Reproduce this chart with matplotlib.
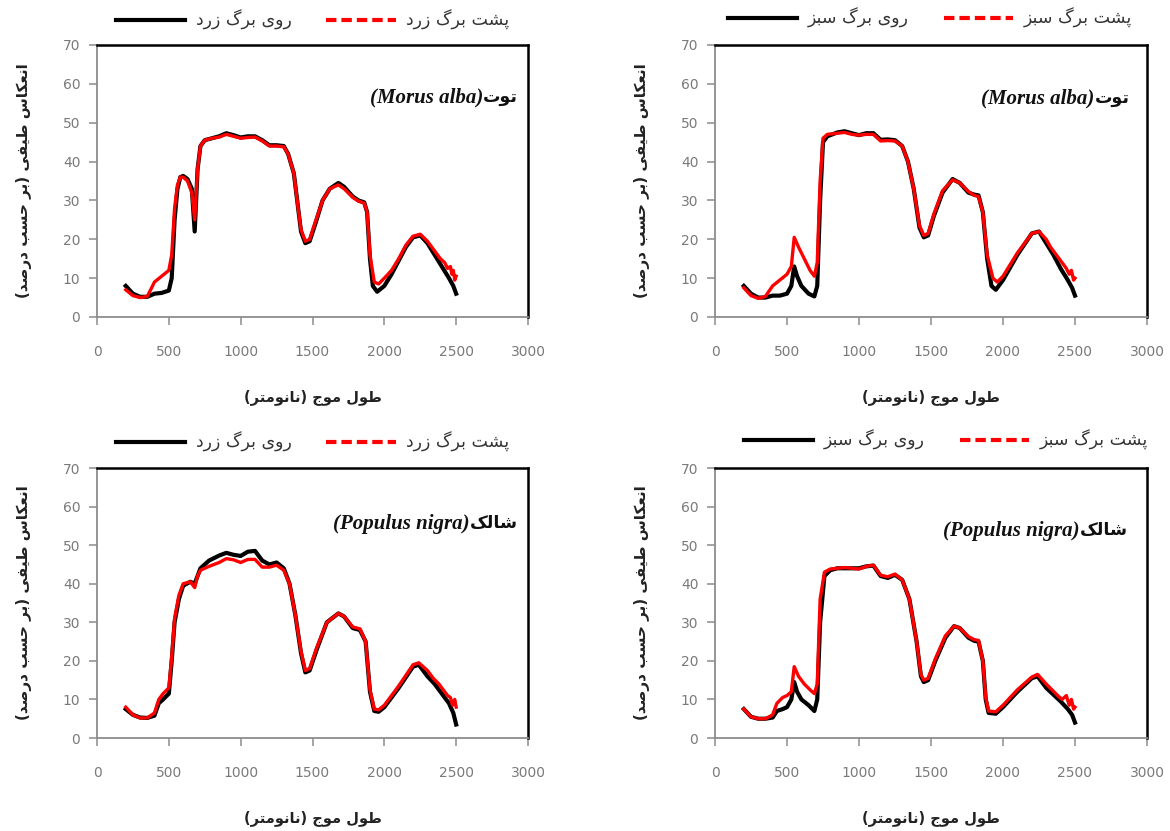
import matplotlib
matplotlib.use("Agg")
import matplotlib.pyplot as plt
from matplotlib.lines import Line2D

# Persian text needs shaping by hand (matplotlib has no Arabic shaping / bidi)
FORMS = {
    "\u0627": (0xFE8D, 0xFE8E, None, None),
    "\u0628": (0xFE8F, 0xFE90, 0xFE91, 0xFE92),
    "\u067E": (0xFB56, 0xFB57, 0xFB58, 0xFB59),
    "\u062A": (0xFE95, 0xFE96, 0xFE97, 0xFE98),
    "\u062C": (0xFE9D, 0xFE9E, 0xFE9F, 0xFEA0),
    "\u062D": (0xFEA1, 0xFEA2, 0xFEA3, 0xFEA4),
    "\u062F": (0xFEA9, 0xFEAA, None, None),
    "\u0631": (0xFEAD, 0xFEAE, None, None),
    "\u0632": (0xFEAF, 0xFEB0, None, None),
    "\u0633": (0xFEB1, 0xFEB2, 0xFEB3, 0xFEB4),
    "\u0634": (0xFEB5, 0xFEB6, 0xFEB7, 0xFEB8),
    "\u0635": (0xFEB9, 0xFEBA, 0xFEBB, 0xFEBC),
    "\u0637": (0xFEC1, 0xFEC2, 0xFEC3, 0xFEC4),
    "\u0639": (0xFEC9, 0xFECA, 0xFECB, 0xFECC),
    "\u0641": (0xFED1, 0xFED2, 0xFED3, 0xFED4),
    "\u0644": (0xFEDD, 0xFEDE, 0xFEDF, 0xFEE0),
    "\u0645": (0xFEE1, 0xFEE2, 0xFEE3, 0xFEE4),
    "\u0646": (0xFEE5, 0xFEE6, 0xFEE7, 0xFEE8),
    "\u0648": (0xFEED, 0xFEEE, None, None),
    "\u06A9": (0xFB8E, 0xFB8F, 0xFB90, 0xFB91),
    "\u06AF": (0xFB92, 0xFB93, 0xFB94, 0xFB95),
    "\u06CC": (0xFBFC, 0xFBFD, 0xFBFE, 0xFBFF),
}


def fa(text):
    out = []
    for i, c in enumerate(text):
        if c not in FORMS:
            out.append(c)
            continue
        prev = text[i - 1] if i > 0 else None
        nxt = text[i + 1] if i + 1 < len(text) else None
        jp = prev in FORMS and FORMS[prev][2] is not None
        jn = FORMS[c][2] is not None and nxt in FORMS
        iso, fin, ini, med = FORMS[c]
        if jp and jn:
            g = med
        elif jp:
            g = fin
        elif jn:
            g = ini
        else:
            g = iso
        out.append(chr(g))
    return "".join(reversed(out)).translate(str.maketrans("()", ")("))


ylabel_text = "انعکاس طیفی (بر حسب درصد)"
xlabel_text = "طول موج (نانومتر)"
legend_yellow = ["روی برگ زرد", "پشت برگ زرد"]
legend_green = ["روی برگ سبز", "پشت برگ سبز"]
species_fa = ["توت", "توت", "شالک", "شالک"]
species_lat = ["(Morus alba)", "(Morus alba)", "(Populus nigra)", "(Populus nigra)"]

# ---- data: Morus alba, yellow leaf ----
tl_black_wl = [200, 250, 300, 350, 400, 450, 500, 520, 540, 560, 580, 600, 630, 660, 680, 700, 720, 750,
               800, 850, 900, 950, 1000, 1050, 1100, 1150, 1200, 1250, 1300, 1330, 1370, 1400, 1420, 1450,
               1480, 1520, 1570, 1620, 1680, 1720, 1780, 1820, 1860, 1880, 1900, 1920, 1950, 2000, 2050,
               2100, 2150, 2200, 2250, 2300, 2350, 2400, 2450, 2480, 2500]
tl_black_r = [8, 6, 5.2, 5.2, 6, 6.2, 6.8, 10, 25, 33, 36, 36.3, 35.5, 33, 22, 38, 44, 45.5,
              46, 46.5, 47.3, 46.8, 46.2, 46.5, 46.5, 45.5, 44.2, 44.2, 44, 42, 37, 28, 22, 19,
              19.5, 24, 30, 33, 34.5, 33.5, 31, 30, 29.5, 27, 15, 8, 6.5, 8, 11,
              14.5, 18, 20.5, 21, 19, 16, 13, 10, 8, 6]
tl_red_wl = [200, 250, 300, 350, 380, 400, 450, 500, 520, 540, 560, 580, 600, 630, 660, 680, 700, 720,
             750, 800, 850, 900, 950, 1000, 1050, 1100, 1150, 1200, 1250, 1300, 1330, 1370, 1400, 1420,
             1450, 1480, 1520, 1570, 1620, 1680, 1720, 1780, 1820, 1860, 1880, 1900, 1930, 1960, 2000,
             2050, 2100, 2150, 2200, 2250, 2300, 2330, 2360, 2390, 2420, 2440, 2460, 2470, 2480, 2490, 2500]
tl_red_r = [7, 5.5, 5, 5.3, 7.5, 9, 10.5, 12, 16, 28, 34, 36, 36, 35, 32, 25, 38, 44,
            45.5, 46, 46.3, 47, 46.5, 46, 46.2, 46.3, 45.3, 44, 44, 43.8, 42, 37, 28, 22.5,
            19.5, 20, 24.5, 30, 33, 34, 33, 30.8, 29.8, 29.3, 27, 16, 9, 8.5, 10,
            12, 15, 18.5, 20.8, 21.3, 19.5, 18, 16.5, 15, 14, 12.5, 13, 11, 12, 9.5, 10.5]

# ---- data: Morus alba, green leaf ----
tr_black_wl = [200, 250, 300, 350, 400, 450, 500, 530, 550, 570, 600, 650, 690, 710, 730, 750, 780,
               850, 900, 950, 1000, 1050, 1100, 1150, 1200, 1250, 1300, 1340, 1380, 1420, 1450, 1480,
               1520, 1580, 1650, 1700, 1760, 1800, 1830, 1860, 1890, 1920, 1950, 2000, 2100, 2200,
               2250, 2300, 2350, 2400, 2450, 2480, 2500]
tr_black_r = [8, 6, 5, 5, 5.5, 5.5, 6, 8, 13, 10.5, 8, 6, 5.3, 8, 30, 45, 46.5,
              47.5, 47.8, 47.3, 46.8, 47.3, 47.3, 45.6, 45.7, 45.5, 44, 40, 33, 23, 20.5, 21,
              26, 32, 35.5, 34.5, 32, 31.5, 31.3, 27, 15, 8, 7, 9.5, 16, 21.5,
              22, 19, 16, 12.5, 9.5, 7.5, 5.5]
tr_red_wl = [200, 250, 300, 350, 400, 450, 500, 530, 550, 580, 620, 660, 690, 710, 730, 750, 780,
             850, 900, 950, 1000, 1050, 1100, 1150, 1200, 1250, 1300, 1340, 1380, 1420, 1450, 1480,
             1520, 1580, 1650, 1700, 1760, 1800, 1830, 1860, 1890, 1930, 1960, 2000, 2100, 2200,
             2250, 2300, 2330, 2360, 2390, 2420, 2440, 2460, 2475, 2490, 2500]
tr_red_r = [7.5, 5.5, 4.8, 5.3, 8, 9.5, 11, 13, 20.5, 18, 15, 12, 10.5, 14, 35, 46, 47,
            47.3, 47.5, 47, 46.8, 47, 47, 45.3, 45.4, 45.3, 44, 40, 33, 23.5, 21, 21.5,
            26.5, 32.5, 35.3, 34.5, 32.3, 31.3, 31, 27, 16, 10, 9, 10.5, 16.5, 21.5,
            22, 20, 18, 16.5, 15, 13.5, 12.5, 11, 12, 9.5, 10]

# ---- data: Populus nigra, yellow leaf ----
bl_black_wl = [200, 250, 300, 350, 400, 430, 460, 500, 520, 540, 570, 600, 650, 680, 700, 720, 780,
               850, 900, 950, 1000, 1050, 1100, 1150, 1200, 1250, 1300, 1340, 1380, 1420, 1450, 1480,
               1530, 1600, 1680, 1720, 1780, 1830, 1870, 1900, 1930, 1960, 2000, 2100, 2200, 2240,
               2300, 2350, 2400, 2450, 2480, 2500]
bl_black_r = [7.5, 6, 5.3, 5.2, 5.8, 9, 10, 11.5, 20, 30, 36, 39.5, 40.5, 40, 42, 44, 46,
              47.3, 48, 47.5, 47.2, 48.3, 48.5, 46, 45, 45.5, 44, 40, 32, 22, 17, 17.5,
              23, 30, 32.3, 31.5, 28.5, 28, 25, 12, 7, 6.8, 8, 13, 18.5, 19,
              16, 14, 11.5, 9, 6.5, 3.5]
bl_red_wl = [200, 250, 300, 350, 400, 430, 460, 500, 520, 540, 570, 600, 650, 680, 700, 720, 780,
             850, 900, 950, 1000, 1050, 1100, 1150, 1200, 1250, 1300, 1340, 1380, 1420, 1450, 1480,
             1530, 1600, 1680, 1720, 1780, 1830, 1870, 1900, 1930, 1960, 2000, 2100, 2200, 2240,
             2300, 2340, 2380, 2410, 2440, 2460, 2475, 2490, 2500]
bl_red_r = [8, 6, 5.2, 5.2, 6.5, 10, 11.5, 13, 21, 31, 37, 40, 40.5, 39, 42, 43.5, 44.5,
            45.5, 46.5, 46.2, 45.5, 46.3, 46.3, 44.3, 44.3, 44.8, 43.5, 40, 32, 22.5, 17.5, 18,
            23.5, 30, 32.3, 31.5, 28.8, 28.3, 25, 12.5, 7.5, 7.3, 8.5, 13.5, 19, 19.5,
            17.5, 15.5, 14, 12.5, 11, 10.5, 8.5, 10, 8]

# ---- data: Populus nigra, green leaf ----
br_black_wl = [200, 250, 300, 350, 400, 430, 470, 500, 530, 550, 570, 600, 650, 690, 710, 730, 760,
               800, 850, 900, 950, 1000, 1050, 1100, 1150, 1200, 1250, 1300, 1350, 1400, 1430, 1450,
               1480, 1530, 1600, 1660, 1700, 1760, 1800, 1830, 1860, 1880, 1900, 1950, 2000, 2100,
               2200, 2240, 2300, 2400, 2450, 2480, 2500]
br_black_r = [7.5, 5.5, 5, 5, 5.3, 7, 7.5, 8, 10, 14.5, 12, 10, 8.5, 7, 10, 30, 42,
              43.5, 44, 44, 44, 44, 44.5, 44.7, 42, 41.5, 42.3, 41, 36, 25, 16, 14.5,
              15, 20, 26, 29, 28.5, 26, 25.2, 25, 20, 10, 6.5, 6.3, 8, 12,
              15.5, 16, 13, 9.5, 7.5, 6, 4]
br_red_wl = [200, 250, 300, 350, 400, 430, 470, 500, 530, 550, 580, 620, 660, 690, 710, 730, 760,
             800, 850, 900, 950, 1000, 1050, 1100, 1150, 1200, 1250, 1300, 1350, 1400, 1430, 1450,
             1480, 1530, 1600, 1660, 1700, 1760, 1800, 1830, 1860, 1880, 1900, 1950, 2000, 2100,
             2200, 2240, 2300, 2340, 2380, 2410, 2440, 2460, 2475, 2490, 2500]
br_red_r = [7.5, 5.5, 5, 5, 6, 9, 10.5, 11, 12, 18.5, 16, 14, 12.5, 11.5, 14, 36, 43,
            43.8, 44, 44.2, 44, 43.8, 44.5, 44.8, 42.2, 41.8, 42.5, 41, 36, 25, 16.5, 15,
            15.5, 20.5, 26.5, 29, 28.5, 26.3, 25.5, 25.3, 20, 10.5, 7, 6.8, 8.5, 12.5,
            15.8, 16.5, 14, 12.5, 11, 10, 11, 8.5, 10, 7.5, 8]

panels = [
    (tl_black_wl, tl_black_r, tl_red_wl, tl_red_r, legend_yellow),
    (tr_black_wl, tr_black_r, tr_red_wl, tr_red_r, legend_green),
    (bl_black_wl, bl_black_r, bl_red_wl, bl_red_r, legend_yellow),
    (br_black_wl, br_black_r, br_red_wl, br_red_r, legend_green),
]

W, H = 1170, 831
axes_px = [(97, 45, 431, 272), (715, 45, 432, 272), (97, 468, 431, 270), (715, 468, 432, 270)]
species_pos = [(0.977, 0.81), (0.96, 0.805), (0.977, 0.796), (0.956, 0.77)]
legend_px = [(116, 20), (728, 18), (116, 442), (744, 440)]

plt.rcParams["font.family"] = ["DejaVu Sans"]
fig = plt.figure(figsize=(W / 100, H / 100), dpi=100)

for i, (bx, by, rx, ry, leg) in enumerate(panels):
    x0, y0, w, h = axes_px[i]
    ax = fig.add_axes([x0 / W, 1 - (y0 + h) / H, w / W, h / H])
    ax.plot(bx, by, color="black", lw=3.0, solid_joinstyle="round")
    ax.plot(rx, ry, color="#ff0000", lw=2.4, solid_joinstyle="round")
    ax.set_xlim(0, 3000)
    ax.set_ylim(0, 70)
    ax.set_xticks(range(0, 3001, 500))
    ax.set_yticks(range(0, 71, 10))
    for s in ["left", "bottom"]:
        ax.spines[s].set_color("#8c8c8c")
        ax.spines[s].set_linewidth(1.3)
    for s in ["top", "right"]:
        ax.spines[s].set_color("black")
        ax.spines[s].set_linewidth(1.8)
    ax.tick_params(direction="out", length=6, width=1.1, color="#8c8c8c",
                   labelcolor="#7a7a7a", labelsize=10, pad=6)
    ax.tick_params(axis="x", pad=14)
    ax.set_ylabel(fa(ylabel_text), fontsize=11, fontweight="bold", color="#222222", labelpad=22)
    ax.set_xlabel(fa(xlabel_text), fontsize=10.5, fontweight="bold", color="#222222", labelpad=22)

    sx, sy = species_pos[i]
    t = ax.text(sx, sy, fa(species_fa[i]), transform=ax.transAxes, ha="right", va="center",
                fontsize=12.5, fontweight="bold", color="#111111")
    ax.annotate(species_lat[i], xy=(0, 0.45), xycoords=t, ha="right", va="center",
                fontsize=15, fontweight="bold", style="italic", family="Liberation Serif",
                color="#111111")

    handles = [Line2D([], [], color="black", lw=3),
               Line2D([], [], color="#ff0000", lw=3, ls=(0, (2.5, 1.2)))]
    lx, ly = legend_px[i]
    fig.legend(handles, [fa(leg[0]), fa(leg[1])], ncol=2, frameon=False,
               loc="center left", bbox_to_anchor=(lx / W, 1 - ly / H),
               fontsize=12.5, handlelength=4.0, handletextpad=0.6, columnspacing=2.0,
               labelcolor="#333333", borderaxespad=0, borderpad=0)

fig.savefig("out.png", dpi=100)
